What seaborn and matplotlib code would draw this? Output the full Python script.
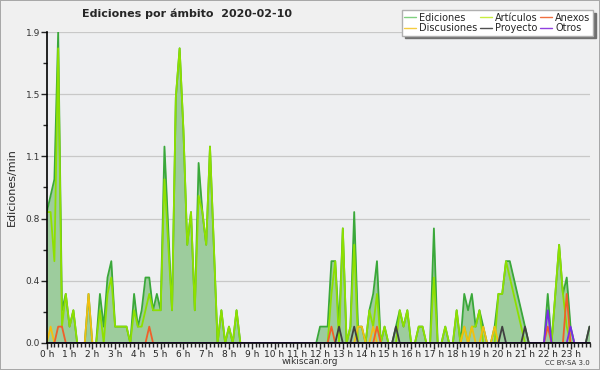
import numpy as np
import pandas as pd
import matplotlib
matplotlib.use('Agg')
import matplotlib.pyplot as plt
import seaborn as sns
from matplotlib.lines import Line2D
import matplotlib.ticker as mtick

# ediciones por minuto, tramos de 10 minutos (144 tramos en el día)
ediciones = [
    0.8, 0.9, 1.0, 1.9, 0.2, 0.3, 0.1, 0.2, 0, 0, 0, 0.3,
    0, 0, 0.3, 0.1, 0.4, 0.5, 0.1, 0.1, 0.1, 0.1, 0, 0.3,
    0.1, 0.2, 0.4, 0.4, 0.2, 0.3, 0.2, 1.2, 0.7, 0.2, 1.5, 1.8,
    1.3, 0.6, 0.8, 0.2, 1.1, 0.8, 0.6, 1.2, 0.6, 0, 0.2, 0,
    0.1, 0, 0.2, 0, 0, 0, 0, 0, 0, 0, 0, 0,
    0, 0, 0, 0, 0, 0, 0, 0, 0, 0, 0, 0,
    0.1, 0.1, 0.1, 0.5, 0.5, 0.1, 0.7, 0, 0.1, 0.8, 0.1, 0.1,
    0, 0.2, 0.3, 0.5, 0, 0.1, 0, 0, 0.1, 0.2, 0.1, 0.2,
    0, 0, 0.1, 0.1, 0, 0, 0.7, 0, 0, 0.1, 0, 0,
    0.2, 0, 0.3, 0.2, 0.3, 0.1, 0.2, 0.1, 0, 0, 0.1, 0.3,
    0.3, 0.5, 0.5, 0.4, 0.3, 0.2, 0.1, 0, 0, 0, 0, 0,
    0.3, 0, 0.3, 0.6, 0.3, 0.4, 0.1, 0, 0, 0, 0, 0.1,
]
articulos = [
    0.8, 0.8, 0.5, 1.8, 0.1, 0.3, 0.1, 0.2, 0, 0, 0, 0,
    0, 0, 0.2, 0, 0.3, 0.4, 0.1, 0.1, 0.1, 0.1, 0, 0.2,
    0.1, 0.1, 0.2, 0.3, 0.2, 0.2, 0.2, 1.0, 0.6, 0.2, 1.5, 1.8,
    1.3, 0.6, 0.8, 0.2, 0.9, 0.8, 0.6, 1.2, 0.6, 0, 0.2, 0,
    0.1, 0, 0.2, 0, 0, 0, 0, 0, 0, 0, 0, 0,
    0, 0, 0, 0, 0, 0, 0, 0, 0, 0, 0, 0,
    0, 0, 0, 0.3, 0.5, 0, 0.7, 0, 0.1, 0.6, 0, 0,
    0, 0.2, 0.1, 0.3, 0, 0.1, 0, 0, 0, 0.2, 0.1, 0.2,
    0, 0, 0.1, 0.1, 0, 0, 0.4, 0, 0, 0.1, 0, 0,
    0.2, 0, 0.1, 0, 0.1, 0.1, 0.2, 0, 0, 0, 0, 0.3,
    0.3, 0.5, 0.4, 0.3, 0.2, 0.1, 0, 0, 0, 0, 0, 0,
    0, 0, 0.3, 0.6, 0.3, 0.1, 0, 0, 0, 0, 0, 0,
]
# series pequeñas: {tramo: valor}, el resto es 0
discusiones_pts = {1: 0.1, 11: 0.3, 82: 0.1, 83: 0.1, 86: 0.1, 110: 0.1,
                   112: 0.1, 115: 0.1, 118: 0.1}
anexos_pts = {3: 0.1, 4: 0.1, 27: 0.1, 75: 0.1, 87: 0.1, 132: 0.1, 137: 0.3}
proyecto_pts = {77: 0.1, 81: 0.1, 92: 0.1, 120: 0.1, 126: 0.1, 143: 0.1}
otros_pts = {132: 0.2, 138: 0.1}

hora_labels = [f'{h} h' for h in range(24)]
ytick_vals = [0, 0.38, 0.76, 1.14, 1.52, 1.9]
ytick_labels = ['0.0', '0.4', '0.8', '1.1', '1.5', '1.9']


def serie(pts):
    v = np.zeros(144)
    for k, val in pts.items():
        v[k] = val
    return v


horas = np.arange(144) / 6
df = pd.DataFrame({
    'hora': horas,
    'Ediciones': ediciones,
    'Artículos': articulos,
    'Discusiones': serie(discusiones_pts),
    'Anexos': serie(anexos_pts),
    'Proyecto': serie(proyecto_pts),
    'Otros': serie(otros_pts),
})

colores = {
    'Ediciones': '#3aa83a',
    'Artículos': '#8ee000',
    'Discusiones': '#f2bf10',
    'Anexos': '#f0602a',
    'Proyecto': '#404040',
    'Otros': '#7a2ae8',
}
legend_colores = {
    'Ediciones': '#80d080',
    'Discusiones': '#f5cc40',
    'Artículos': '#c8ee40',
    'Proyecto': '#505050',
    'Anexos': '#f07040',
    'Otros': '#9040e0',
}

sns.set_style('white')
plt.rcParams['font.family'] = ['DejaVu Sans']

fig = plt.figure(figsize=(6, 3.7), dpi=100, facecolor='#f0f0f0',
                 edgecolor='#a8a8a8', linewidth=1.2)
ax = fig.add_axes([0.078, 0.073, 0.9045, 0.8405])
ax.set_facecolor('#eeeff1')

ax.fill_between(df['hora'], df['Ediciones'], color='#9dcc9d', lw=0)
for nombre in ['Ediciones', 'Artículos', 'Discusiones', 'Anexos', 'Proyecto', 'Otros']:
    sns.lineplot(data=df, x='hora', y=nombre, color=colores[nombre],
                 linewidth=1.3, ax=ax)

ax.set_xlim(0, 143 / 6)
ax.set_ylim(0, 1.9)
ax.set_xticks(range(24))
ax.set_xticklabels(hora_labels, fontsize=6.5)
ax.xaxis.set_minor_locator(mtick.MultipleLocator(1 / 6))
ax.set_yticks(ytick_vals)
ax.set_yticklabels(ytick_labels, fontsize=6.5, color='#333333')
ax.yaxis.set_minor_locator(mtick.MultipleLocator(0.19))
ax.tick_params(axis='both', which='major', length=4, width=1, pad=1,
               bottom=True, left=True, direction='out')
ax.tick_params(axis='both', which='minor', length=3, width=1,
               bottom=True, left=True, direction='out')
ax.grid(axis='y', which='major', color='#c8c8c8', lw=0.9)
ax.set_axisbelow(True)
for s in ['top', 'right']:
    ax.spines[s].set_visible(False)
for s in ['left', 'bottom']:
    ax.spines[s].set_color('black')
    ax.spines[s].set_linewidth(1.2)
ax.set_xlabel('')
ax.set_ylabel('Ediciones/min', fontsize=8, labelpad=6)

fig.text(0.312, 0.962, 'Ediciones por ámbito  2020-02-10', ha='center',
         va='center', fontsize=8, fontweight='bold')

orden = ['Ediciones', 'Discusiones', 'Artículos', 'Proyecto', 'Anexos', 'Otros']
handles = [Line2D([], [], color=legend_colores[n], lw=1) for n in orden]
leg = fig.legend(handles, orden, loc='upper right', bbox_to_anchor=(0.988, 0.972),
                 ncol=3, fontsize=7, frameon=True, fancybox=False,
                 shadow={'color': '#707070', 'alpha': 1},
                 handlelength=1.2, handletextpad=0.35, columnspacing=0.25,
                 labelspacing=0.05, borderpad=0.25, borderaxespad=0)
leg.get_frame().set_edgecolor('#b0b0b0')
leg.get_frame().set_facecolor('white')
leg.get_frame().set_alpha(1)

fig.text(0.517, 0.022, 'wikiscan.org', ha='center', va='center', fontsize=6.5,
         color='#333333')
fig.text(0.983, 0.02, 'CC BY-SA 3.0', ha='right', va='center', fontsize=5,
         color='#333333')

fig.savefig('out.png', dpi=100, facecolor=fig.get_facecolor(),
            edgecolor=fig.get_edgecolor())
